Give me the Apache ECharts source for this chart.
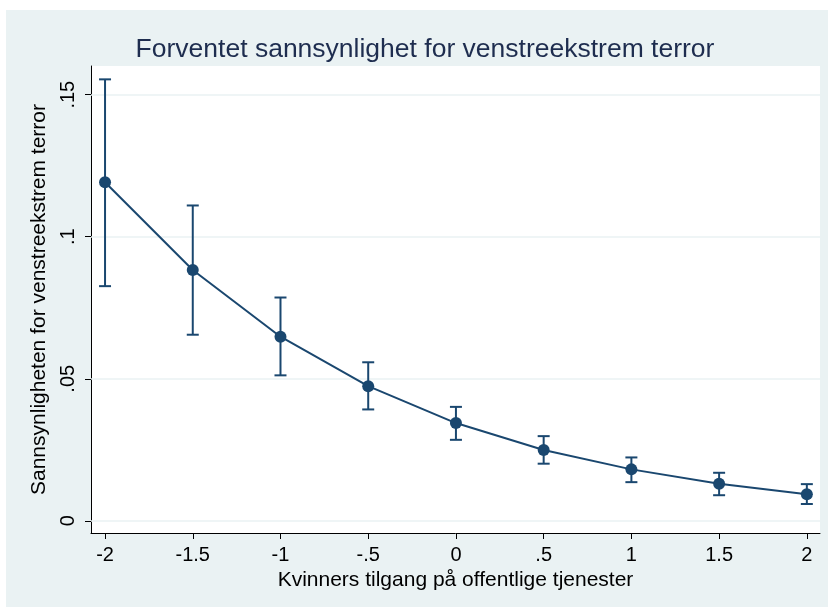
<!DOCTYPE html>
<html>
<head>
<meta charset="utf-8">
<script src="https://cdn.jsdelivr.net/npm/echarts@6/dist/echarts.min.js"></script>
<style>
  html, body { margin: 0; padding: 0; background: #ffffff; }
  #chart { position: absolute; left: 6px; top: 10px; width: 822px; height: 597px; }
</style>
</head>
<body>
<div id="chart"></div>
<script>
// data
const xValues = [-2, -1.5, -1, -0.5, 0, 0.5, 1, 1.5, 2];
const means  = [0.1192, 0.0883, 0.0648, 0.0474, 0.0344, 0.0249, 0.0181, 0.0130, 0.0093];
const uppers = [0.1554, 0.1110, 0.0786, 0.0558, 0.0401, 0.0298, 0.0223, 0.0169, 0.0129];
const lowers = [0.0826, 0.0655, 0.0512, 0.0392, 0.0285, 0.0201, 0.0136, 0.0090, 0.0059];
const xTicks = [-2, -1.5, -1, -0.5, 0, 0.5, 1, 1.5, 2];
const yTicks = [0, 0.05, 0.1, 0.15];

const navy = '#1a476f';
const font = 'Liberation Sans, Arial, Helvetica, sans-serif';

// stata style: drop the leading zero
function fmt(v) {
  if (v === 0) return '0';
  return String(v).replace(/^(-?)0\./, '$1.');
}

const chart = echarts.init(document.getElementById('chart'));
const option = {
  backgroundColor: '#eaf2f3',
  animation: false,
  title: {
    text: 'Forventet sannsynlighet for venstreekstrem terror',
    left: 414,
    textAlign: 'center',
    top: 21,
    textStyle: { color: '#1e2d4f', fontSize: 26.5, fontWeight: 'normal', fontFamily: font }
  },
  grid: { left: 85, right: 8, top: 56, bottom: 74, show: true, backgroundColor: '#ffffff', borderWidth: 0 },
  xAxis: {
    type: 'value',
    min: -2.08,
    max: 2.075,
    name: 'Kvinners tilgang på offentlige tjenester',
    nameLocation: 'middle',
    nameGap: 35,
    nameTextStyle: { color: '#000', fontSize: 21, fontFamily: font },
    axisLine: { onZero: false, lineStyle: { color: '#000', width: 1 } },
    axisTick: { show: true, length: 6, customValues: xTicks, lineStyle: { color: '#000' } },
    axisLabel: { customValues: xTicks, formatter: fmt, color: '#000', fontSize: 20, fontFamily: font, margin: 12 },
    splitLine: { show: false }
  },
  yAxis: {
    type: 'value',
    min: -0.0043,
    max: 0.1601,
    name: 'Sannsynligheten for venstreekstrem terror',
    nameLocation: 'middle',
    nameRotate: 90,
    nameGap: 37,
    nameTextStyle: { color: '#000', fontSize: 21, fontFamily: font },
    axisLine: { show: true, onZero: false, lineStyle: { color: '#000', width: 1 } },
    axisTick: { show: true, length: 6, customValues: yTicks, lineStyle: { color: '#000' } },
    axisLabel: { customValues: yTicks, formatter: fmt, rotate: 90, color: '#000', fontSize: 20, fontFamily: font, margin: 13 },
    splitLine: { show: false }
  },
  series: [
    {
      // grid lines at the y ticks
      type: 'line',
      data: [],
      silent: true,
      z: 0,
      markLine: {
        z: 1,
        symbol: 'none',
        silent: true,
        label: { show: false },
        lineStyle: { color: '#eaf2f3', width: 1.5, type: 'solid' },
        data: yTicks.map(v => ({ yAxis: v }))
      }
    },
    {
      name: 'ci',
      type: 'custom',
      data: xValues.map((x, i) => [x, lowers[i], uppers[i]]),
      renderItem: function (params, api) {
        const lo = api.coord([api.value(0), api.value(1)]);
        const hi = api.coord([api.value(0), api.value(2)]);
        const half = 6;
        const style = { stroke: navy, lineWidth: 2 };
        return {
          type: 'group',
          children: [
            { type: 'line', shape: { x1: lo[0], y1: lo[1], x2: hi[0], y2: hi[1] }, style: style },
            { type: 'line', shape: { x1: hi[0] - half, y1: hi[1], x2: hi[0] + half, y2: hi[1] }, style: style },
            { type: 'line', shape: { x1: lo[0] - half, y1: lo[1], x2: lo[0] + half, y2: lo[1] }, style: style }
          ]
        };
      },
      z: 9
    },
    {
      name: 'mean',
      type: 'line',
      data: xValues.map((x, i) => [x, means[i]]),
      symbol: 'circle',
      symbolSize: 12,
      lineStyle: { color: navy, width: 2 },
      itemStyle: { color: navy },
      z: 10
    }
  ]
};
chart.setOption(option);
</script>
</body>
</html>
